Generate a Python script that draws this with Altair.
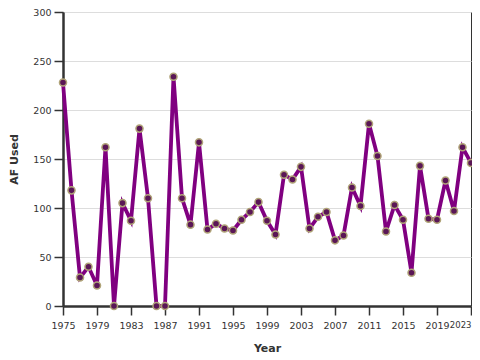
import altair as alt
import pandas as pd

years = list(range(1975, 2024))
af_used = [228, 118, 29, 40, 21, 162, 0, 105, 87, 181,
           110, 0, 0, 234, 110, 83, 167, 78, 84, 79,
           77, 88, 96, 106, 87, 73, 134, 129, 142, 79,
           91, 96, 67, 72, 121, 102, 186, 153, 76, 103,
           88, 34, 143, 89, 88, 128, 97, 162, 146]
x_ticks = list(range(1975, 2024, 4))
y_ticks = [0, 50, 100, 150, 200, 250, 300]

df = pd.DataFrame({"Year": years, "AF Used": af_used})

font = "DejaVu Sans"

x = alt.X("Year:Q",
          scale=alt.Scale(domain=[1975, 2023], nice=False, zero=False),
          axis=alt.Axis(values=x_ticks, format="d", grid=False, title="Year",
                        labelFlush=False, labelOverlap=False,
                        labelFontSize=alt.expr("datum.value >= 2023 ? 8.5 : 9.5"),
                        labelAlign=alt.expr("datum.value >= 2023 ? 'right' : 'center'")))
y = alt.Y("AF Used:Q",
          scale=alt.Scale(domain=[0, 300], nice=False),
          axis=alt.Axis(values=y_ticks, grid=True, title="AF Used", labelFontSize=9.5))

line = alt.Chart(df).mark_line(color="#800080", strokeWidth=3.8).encode(x=x, y=y)
pts = alt.Chart(df).mark_point(filled=True, fill="#5a1656", stroke="#b0a478",
                               strokeWidth=1.5, size=50, opacity=1).encode(x=x, y=y)

chart = (line + pts).properties(
    width=408, height=294,
    autosize=alt.AutoSizeParams(type="none"),
    padding={"left": 55, "top": 4, "right": 1, "bottom": 52},
).configure_view(
    stroke="#333333", strokeWidth=1
).configure_axis(
    domainColor="#333333", domainWidth=2.5,
    tickColor="#333333", tickWidth=1.5, tickSize=9,
    labelFont=font, labelColor="#333333",
    titleFont=font, titleFontSize=11, titleFontWeight="bold", titleColor="#333333",
    gridColor="#dddddd", gridWidth=1,
).configure_axisY(
    titlePadding=13, labelPadding=3,
).configure_axisX(
    titlePadding=13, labelPadding=5,
)

chart.save("out.html", embed_options={"renderer": "svg", "actions": False})
